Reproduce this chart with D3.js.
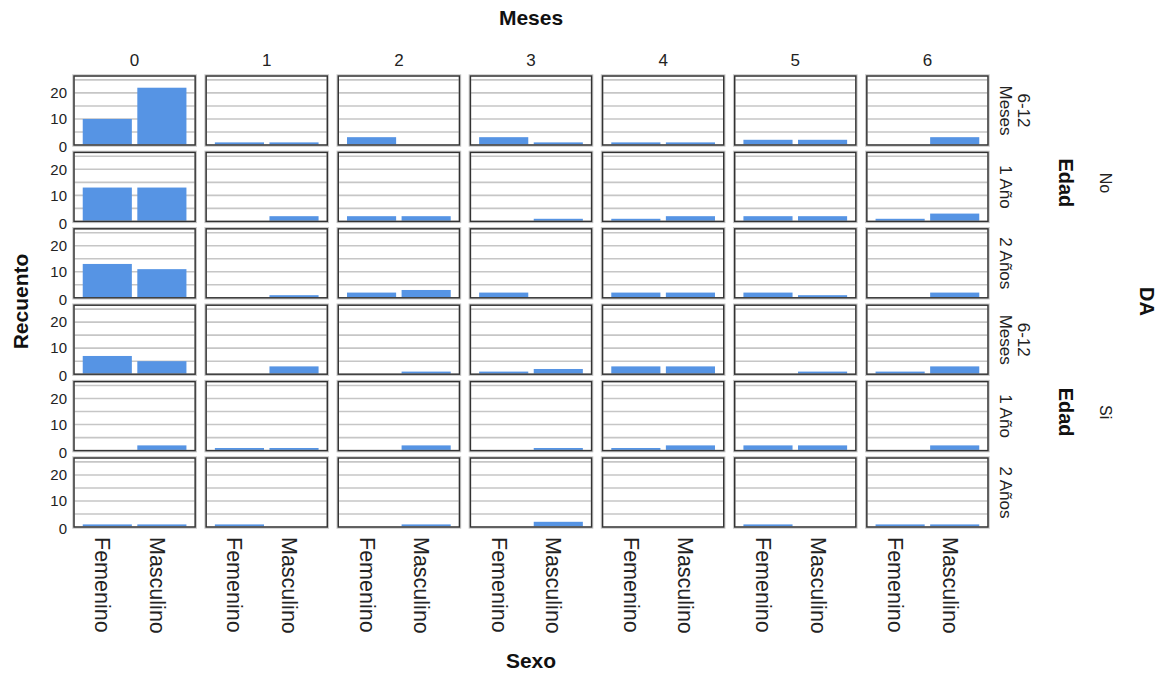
<!DOCTYPE html>
<html>
<head>
<meta charset="utf-8">
<script src="https://cdn.jsdelivr.net/npm/d3@7"></script>
<style>
  body { margin: 0; background: #fff; }
  svg { font-family: "Liberation Sans", Arial, sans-serif; }
</style>
</head>
<body>
<svg width="1164" height="674"></svg>
<script>
// Facet categories
var meses = ['0', '1', '2', '3', '4', '5', '6'];
var edad = ['6-12 Meses', '1 Año', '2 Años'];
var da = ['No', 'Si'];
var sexo = ['Femenino', 'Masculino'];

// Counts, one row per DA x Edad facet row, one column per Meses
var femenino = [
    [10, 1, 3, 3, 1, 2, 0],
    [13, 0, 2, 0, 1, 2, 1],
    [13, 0, 2, 2, 2, 2, 0],
    [7, 0, 0, 1, 3, 0, 1],
    [0, 1, 0, 0, 1, 2, 0],
    [1, 1, 0, 0, 0, 1, 1]
];
var masculino = [
    [22, 1, 0, 1, 1, 2, 3],
    [13, 2, 2, 1, 2, 2, 3],
    [11, 1, 3, 0, 2, 1, 2],
    [5, 3, 1, 2, 3, 1, 3],
    [2, 1, 2, 1, 2, 2, 2],
    [1, 0, 1, 2, 0, 0, 1]
];
var yTicks = [0, 10, 20];
var gridTicks = [5, 10, 15, 20, 25];

// facet rows: DA x Edad
var rows = [];
da.forEach(function(d) {
    edad.forEach(function(e) { rows.push({ da: d, edad: e }); });
});

var svg = d3.select('svg');

var colScale = d3.scaleBand().domain(meses).range([74, 988]).paddingInner(0.083);
var rowScale = d3.scaleBand().domain(d3.range(rows.length)).range([76, 527]).paddingInner(0.097);

var pw = colScale.bandwidth();
var ph = rowScale.bandwidth();

var x = d3.scaleBand().domain(sexo).range([0, pw]).paddingInner(0.1).paddingOuter(0.16);
var y = d3.scaleLinear().domain([0, 26.5]).range([ph, 0]);

var cells = [];
rows.forEach(function(r, ri) {
    meses.forEach(function(m, ci) {
        cells.push({
            ri: ri, m: m,
            values: [
                { sexo: 'Femenino', n: femenino[ri][ci] },
                { sexo: 'Masculino', n: masculino[ri][ci] }
            ]
        });
    });
});

var panel = svg.selectAll('.panel')
    .data(cells)
    .enter()
    .append('g')
    .attr('class', 'panel')
    .attr('transform', function(d) {
        return 'translate(' + colScale(d.m) + ',' + rowScale(d.ri) + ')';
    });

panel.append('rect')
    .attr('width', pw).attr('height', ph)
    .style('fill', '#fff');

// horizontal grid lines
panel.selectAll('.grid')
    .data(gridTicks)
    .enter()
    .append('line')
    .attr('x1', 0).attr('x2', pw)
    .attr('y1', function(d) { return y(d); })
    .attr('y2', function(d) { return y(d); })
    .style('stroke', '#c6c6c6')
    .style('stroke-width', 1.6);

panel.selectAll('.bar')
    .data(function(d) { return d.values; })
    .enter()
    .append('rect')
    .attr('x', function(d) { return x(d.sexo); })
    .attr('width', x.bandwidth())
    .attr('y', function(d) { return y(d.n); })
    .attr('height', function(d) { return ph - y(d.n); })
    .style('fill', '#5694e4');

// frame
panel.append('rect')
    .attr('x', -0.5).attr('y', -0.5)
    .attr('width', pw + 1).attr('height', ph + 1)
    .style('fill', 'none')
    .style('stroke', '#c8c8c8')
    .style('stroke-width', 2.5);
panel.append('rect')
    .attr('width', pw).attr('height', ph)
    .style('fill', 'none')
    .style('stroke', '#333')
    .style('stroke-width', 1.4);

// y axis labels on the first column
rows.forEach(function(r, ri) {
    var ax = svg.append('g')
        .attr('transform', 'translate(' + (colScale(meses[0]) - 3) + ',' + rowScale(ri) + ')')
        .call(d3.axisLeft(y).tickValues(yTicks).tickSize(0).tickPadding(4));
    ax.select('.domain').remove();
    ax.selectAll('text')
        .style('font-family', 'Liberation Sans, Arial, sans-serif')
        .style('font-size', '15px')
        .style('fill', '#222')
        .attr('dy', function(d) { return d === 0 ? '0.45em' : '0.32em'; });
});

// column headers
svg.selectAll('.colhead')
    .data(meses)
    .enter()
    .append('text')
    .attr('x', function(d) { return colScale(d) + pw / 2; })
    .attr('y', 66)
    .style('text-anchor', 'middle')
    .style('font-size', '17px')
    .style('fill', '#222')
    .text(function(d) { return d; });

// x tick labels (rotated)
meses.forEach(function(m) {
    sexo.forEach(function(s) {
        svg.append('text')
            .attr('transform', 'translate(' + (colScale(m) + x(s) + x.bandwidth() / 2 - 12) + ',537) rotate(90)')
            .style('text-anchor', 'start')
            .style('font-size', '21.5px')
            .style('fill', '#222')
            .text(s);
    });
});

// row labels (rotated)
rows.forEach(function(r, ri) {
    var cy = rowScale(ri) + ph / 2;
    var parts = r.edad === '6-12 Meses' ? ['6-12', 'Meses'] : [r.edad];
    parts.forEach(function(p, i) {
        var bx = parts.length === 2 ? (i === 0 ? 1018 : 1000) : 1000;
        svg.append('text')
            .attr('transform', 'translate(' + bx + ',' + cy + ') rotate(90)')
            .style('text-anchor', 'middle')
            .style('font-size', '17px')
            .style('fill', '#222')
            .text(p);
    });
});

// Edad and DA group labels
da.forEach(function(d, di) {
    var top = rowScale(di * 3);
    var bottom = rowScale(di * 3 + 2) + ph;
    var cy = (top + bottom) / 2 - 4;
    svg.append('text')
        .attr('transform', 'translate(1059,' + cy + ') rotate(90)')
        .style('text-anchor', 'middle')
        .style('font-size', '20px')
        .style('font-weight', 'bold')
        .style('fill', '#111')
        .text('Edad');
    svg.append('text')
        .attr('transform', 'translate(1100,' + cy + ') rotate(90)')
        .style('text-anchor', 'middle')
        .style('font-size', '16px')
        .style('fill', '#222')
        .text(d);
});

svg.append('text')
    .attr('transform', 'translate(1140,' + ((rowScale(0) + rowScale(5) + ph) / 2) + ') rotate(90)')
    .style('text-anchor', 'middle')
    .style('font-size', '20px')
    .style('font-weight', 'bold')
    .style('fill', '#111')
    .text('DA');

// axis titles
var midX = (colScale(meses[0]) + colScale(meses[6]) + pw) / 2;
svg.append('text')
    .attr('x', midX).attr('y', 25)
    .style('text-anchor', 'middle')
    .style('font-size', '21px')
    .style('font-weight', 'bold')
    .style('fill', '#111')
    .text('Meses');

svg.append('text')
    .attr('x', midX).attr('y', 668)
    .style('text-anchor', 'middle')
    .style('font-size', '21px')
    .style('font-weight', 'bold')
    .style('fill', '#111')
    .text('Sexo');

svg.append('text')
    .attr('transform', 'translate(28,' + ((rowScale(0) + rowScale(5) + ph) / 2) + ') rotate(-90)')
    .style('text-anchor', 'middle')
    .style('font-size', '21px')
    .style('font-weight', 'bold')
    .style('fill', '#111')
    .text('Recuento');
</script>
</body>
</html>
